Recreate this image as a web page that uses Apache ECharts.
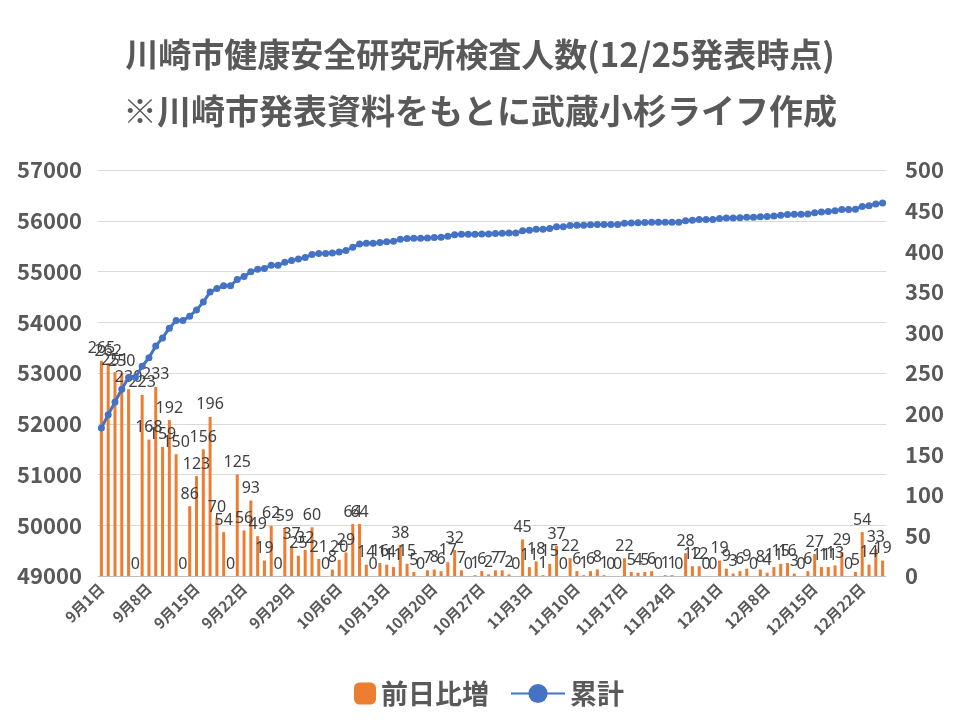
<!DOCTYPE html>
<html>
<head>
<meta charset="utf-8">
<script src="https://cdn.jsdelivr.net/npm/echarts@6/dist/echarts.min.js"></script>
<style>html,body{margin:0;padding:0;background:#fff}#c{width:960px;height:720px}</style>
</head>
<body>
<div id="c"></div>
<script>
const categories = [
'9月1日','9月2日','9月3日','9月4日','9月5日','9月6日','9月7日','9月8日','9月9日','9月10日','9月11日','9月12日','9月13日','9月14日','9月15日','9月16日','9月17日','9月18日','9月19日','9月20日','9月21日','9月22日','9月23日','9月24日','9月25日','9月26日','9月27日','9月28日','9月29日','9月30日',
'10月1日','10月2日','10月3日','10月4日','10月5日','10月6日','10月7日','10月8日','10月9日','10月10日','10月11日','10月12日','10月13日','10月14日','10月15日','10月16日','10月17日','10月18日','10月19日','10月20日','10月21日','10月22日','10月23日','10月24日','10月25日','10月26日','10月27日','10月28日','10月29日','10月30日','10月31日',
'11月1日','11月2日','11月3日','11月4日','11月5日','11月6日','11月7日','11月8日','11月9日','11月10日','11月11日','11月12日','11月13日','11月14日','11月15日','11月16日','11月17日','11月18日','11月19日','11月20日','11月21日','11月22日','11月23日','11月24日','11月25日','11月26日','11月27日','11月28日','11月29日','11月30日',
'12月1日','12月2日','12月3日','12月4日','12月5日','12月6日','12月7日','12月8日','12月9日','12月10日','12月11日','12月12日','12月13日','12月14日','12月15日','12月16日','12月17日','12月18日','12月19日','12月20日','12月21日','12月22日','12月23日','12月24日','12月25日'
];
const dailyIncrease = [
265,262,251,250,230,0,223,168,233,159,192,150,0,86,123,156,196,70,54,0,
125,56,93,49,19,62,0,59,37,25,32,60,21,0,8,20,29,64,64,14,
0,16,14,11,38,15,5,0,7,8,6,17,32,7,0,1,6,2,7,7,
2,0,45,11,18,1,15,37,0,22,6,1,6,8,1,0,0,22,5,4,
5,6,0,1,1,0,28,12,12,0,0,19,9,3,6,9,0,8,4,11,
15,16,3,0,6,27,11,11,13,29,0,5,54,14,33,19
];
const cumulative = [
51916,52178,52429,52679,52909,52909,53132,53300,53533,53692,53884,54034,54034,54120,54243,54399,54595,54665,54719,54719,
54844,54900,54993,55042,55061,55123,55123,55182,55219,55244,55276,55336,55357,55357,55365,55385,55414,55478,55542,55556,
55556,55572,55586,55597,55635,55650,55655,55655,55662,55670,55676,55693,55725,55732,55732,55733,55739,55741,55748,55755,
55757,55757,55802,55813,55831,55832,55847,55884,55884,55906,55912,55913,55919,55927,55928,55928,55928,55950,55955,55959,
55964,55970,55970,55971,55972,55972,56000,56012,56024,56024,56024,56043,56052,56055,56061,56070,56070,56078,56082,56093,
56108,56124,56127,56127,56133,56160,56171,56182,56195,56224,56224,56229,56283,56297,56330,56349
];
const seriesNames = ['前日比増','累計'];
const titleLine1 = '川崎市健康安全研究所検査人数(12/25発表時点)';
const titleLine2 = '※川崎市発表資料をもとに武蔵小杉ライフ作成';

const FONT = '"Noto Sans CJK JP", "Noto Sans", sans-serif';
const GRAY = '#595959';
const chart = echarts.init(document.getElementById('c'), null, {renderer: 'canvas'});
chart.setOption({
  animation: false,
  backgroundColor: '#ffffff',
  title: [
    {text: titleLine1, left: 'center', top: 33, textStyle: {fontFamily: FONT, fontSize: 33, fontWeight: 'bold', color: GRAY}},
    {text: titleLine2, left: 'center', top: 89, textStyle: {fontFamily: FONT, fontSize: 34, fontWeight: 'bold', color: GRAY}}
  ],
  legend: [
    {data: [seriesNames[0]], left: 349, top: 675, itemWidth: 22, itemHeight: 22, itemGap: 8,
     textStyle: {fontFamily: FONT, fontSize: 27, fontWeight: 'bold', color: GRAY}},
    {data: [seriesNames[1]], left: 505, top: 675, itemWidth: 54, itemHeight: 24, itemGap: 8,
     textStyle: {fontFamily: FONT, fontSize: 27, fontWeight: 'bold', color: GRAY}}
  ],
  grid: {left: 98, right: 74, top: 170, bottom: 144, containLabel: false},
  xAxis: {
    type: 'category', data: categories, boundaryGap: true,
    axisLine: {lineStyle: {color: '#bfbfbf', width: 1}},
    axisTick: {interval: 6, length: 5, lineStyle: {color: '#bfbfbf'}},
    axisLabel: {interval: 6, rotate: 45, fontFamily: FONT, fontSize: 15, fontWeight: 'bold', color: GRAY, margin: 10}
  },
  yAxis: [
    {type: 'value', min: 49000, max: 57000, interval: 1000, position: 'left',
     axisLine: {show: false}, axisTick: {show: false},
     splitLine: {lineStyle: {color: '#d9d9d9', width: 1}},
     axisLabel: {formatter: v => String(v), fontFamily: FONT, fontSize: 22, fontWeight: 'bold', color: GRAY, margin: 16}},
    {type: 'value', min: 0, max: 500, interval: 50, position: 'right',
     axisLine: {show: false}, axisTick: {show: false}, splitLine: {show: false},
     axisLabel: {formatter: v => String(v), fontFamily: FONT, fontSize: 22, fontWeight: 'bold', color: GRAY, margin: 19}}
  ],
  series: [
    {name: seriesNames[0], type: 'bar', yAxisIndex: 1, data: dailyIncrease, barWidth: 3,
     itemStyle: {color: '#ED7D31'}, z: 2,
     label: {show: true, position: 'top', distance: 4, fontFamily: '"Noto Sans", sans-serif', fontSize: 16, color: '#404040'}},
    {name: seriesNames[1], type: 'line', yAxisIndex: 0, data: cumulative, z: 5,
     symbol: 'circle', symbolSize: 7, showAllSymbol: true,
     lineStyle: {color: '#4472C4', width: 3}, itemStyle: {color: '#4472C4'}}
  ]
});
</script>
</body>
</html>
